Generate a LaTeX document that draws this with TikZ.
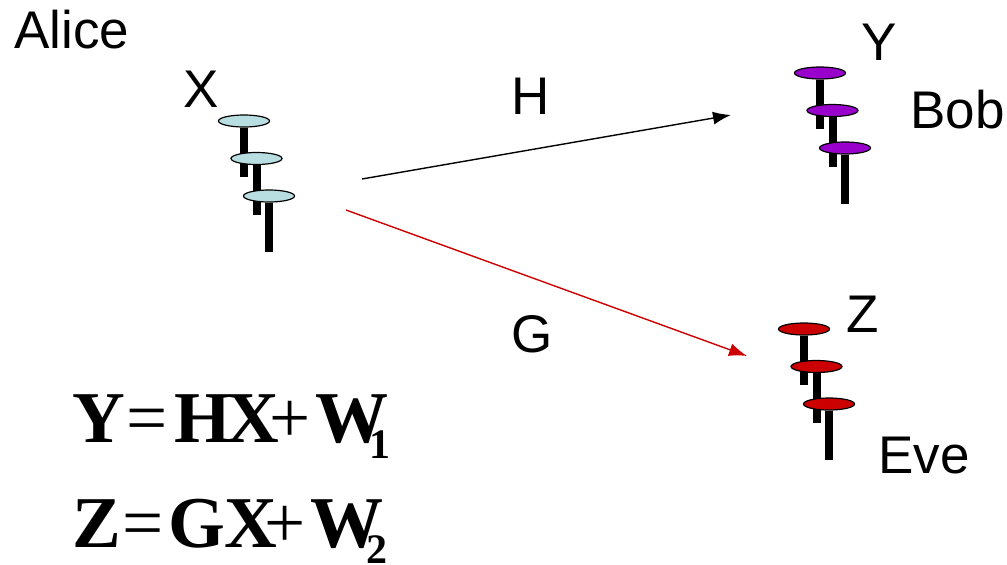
\documentclass[tikz,border=0pt]{standalone}
\usepackage{fontspec}
\setmainfont{Liberation Sans}
\newfontfamily\eqfont{Liberation Serif}
\usepackage{xcolor}
\usetikzlibrary{arrows.meta, shapes.geometric}
\definecolor{palec}{RGB}{184,222,226}
\definecolor{bobc}{RGB}{153,0,204}
\definecolor{evec}{RGB}{204,0,0}
\newcommand{\antennas}[4]{%
  \foreach \i/\dx/\dy in {1/0/0,2/12.5/37.5,3/25/75} {
    \node[disc, fill=#4] (#1\i) at (#2+\dx,#3+\dy) {};
    \coordinate (#1\i end) at (#2+\dx,#3+\dy+56);
    \draw[stem] (#1\i.south) -- (#1\i end);
  }}
\begin{document}
\begin{tikzpicture}[x=1pt,y=-1pt,
  disc/.style={draw, ellipse, line width=1.2pt, minimum width=51pt, minimum height=12pt, inner sep=0pt},
  stem/.style={line width=8pt},
  lab/.style={font=\fontsize{53}{53}\selectfont, inner sep=0pt, anchor=base west},
  eq/.style={font=\eqfont\fontsize{73}{73}\selectfont, inner sep=0pt, anchor=base west},
  sub/.style={font=\eqfont\bfseries\fontsize{42}{42}\selectfont, inner sep=0pt, anchor=base west},
  link/.style={line width=1.4pt, -{Latex[length=18pt,width=13pt]}}]
\useasboundingbox (0,0) rectangle (1007,565);
\antennas{x}{244}{121}{palec}
\antennas{y}{820}{73}{bobc}
\antennas{z}{804}{329}{evec}
\node[lab] (alice) at (14,48) {Alice};
\node[lab] (xlab) at (183,107) {X};
\node[lab] (hlab) at (511,114) {H};
\node[lab] (ylab) at (861,60) {Y};
\node[lab] (bob) at (910,128) {Bob};
\node[lab] (glab) at (511,352) {G};
\node[lab] (zlab) at (846,332) {Z};
\node[lab] (eve) at (878,473) {Eve};
\coordinate (hs) at (362,179);
\coordinate (he) at (731,115);
\coordinate (gs) at (346,210);
\coordinate (ge) at (747,356);
\draw[link] (hs) -- (he);
\draw[link, evec] (gs) -- (ge);
\node[eq] (eqy) at (72,442) {\textbf{Y}\kern2pt=\kern6pt\textbf{H\kern-4pt X}\kern-10pt+\kern5pt\textbf{W}};
\node[sub] (suby) at (369,458) {1};
\node[eq] (eqz) at (72,547) {\textbf{Z}\kern2pt=\kern4pt\textbf{GX}\kern-13pt+\kern5pt\textbf{W}};
\node[sub] (subz) at (366,563) {2};
\end{tikzpicture}
\end{document}
